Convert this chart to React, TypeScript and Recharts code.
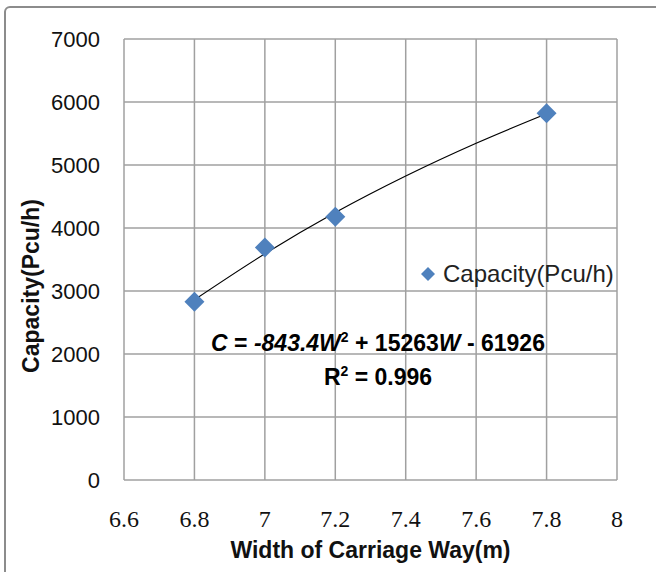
import React from "react";
import { CartesianGrid, ComposedChart, Label, Line, Scatter, XAxis, YAxis } from "recharts";

// observed capacities (diamonds)
const widths = [6.8, 7.0, 7.2, 7.8];
const capacity = [2830, 3690, 4180, 5820];

// polynomial trendline
const trendWidths = [6.8, 7.0, 7.2, 7.4, 7.6, 7.8];
const trendCapacity = [2860, 3590, 4245, 4825, 5345, 5813];

const xTicks = [6.6, 6.8, 7, 7.2, 7.4, 7.6, 7.8, 8];
const yTicks = [0, 1000, 2000, 3000, 4000, 5000, 6000, 7000];

const SERIES_NAME = "Capacity(Pcu/h)";
const BLUE = "#4f81bd";
const GRID = "#a0a0a0";
const SANS = "'Liberation Sans', Arial, sans-serif";
const SERIF = "'Liberation Serif', 'Times New Roman', serif";

const points = widths.map((w, i) => ({ w, cap: capacity[i] }));
const trend = trendWidths.map((w, i) => ({ w, cap: trendCapacity[i] }));

function Diamond(props: any) {
  const { cx, cy } = props;
  if (cx == null || cy == null) return null;
  const r = 10;
  return <polygon points={`${cx},${cy - r} ${cx + r},${cy} ${cx},${cy + r} ${cx - r},${cy}`} fill={BLUE} />;
}

function YTitle() {
  return (
    <text
      transform="translate(31,286) rotate(-90)"
      textAnchor="middle"
      dominantBaseline="central"
      fontFamily={SANS}
      fontWeight="bold"
      fontSize={23}
      fill="#111"
    >
      Capacity(Pcu/h)
    </text>
  );
}

export default function App() {
  return (
    <div style={{ position: "relative", width: 656, height: 572, overflow: "hidden", background: "#fff" }}>
      <style>{"body{margin:0;overflow:hidden}"}</style>
      <div
        style={{
          position: "absolute",
          left: 4,
          top: 6,
          width: 700,
          height: 700,
          border: "2px solid #8c8c8c",
          borderRadius: 6,
        }}
      />
      <ComposedChart width={656} height={572} margin={{ top: 39, right: 39, left: 0, bottom: 0 }}>
        <CartesianGrid stroke={GRID} strokeWidth={1.5} />
        <XAxis
          dataKey="w"
          type="number"
          domain={[6.6, 8]}
          ticks={xTicks}
          height={92}
          axisLine={false}
          tickLine={false}
          tickSize={0}
          tickMargin={30}
          tick={{ fontFamily: SERIF, fontSize: 24, fill: "#111" }}
        >
          <Label
            value="Width of Carriage Way(m)"
            position="insideBottom"
            offset={14}
            style={{ fontFamily: SANS, fontWeight: "bold", fontSize: 23, fill: "#111" }}
          />
        </XAxis>
        <YAxis
          dataKey="cap"
          type="number"
          domain={[0, 7000]}
          ticks={yTicks}
          width={124}
          axisLine={false}
          tickLine={false}
          tickSize={0}
          tickMargin={24}
          tick={{ fontFamily: SANS, fontSize: 22, fill: "#111" }}
        >
          <Label content={<YTitle />} />
        </YAxis>
        <Line
          data={trend}
          dataKey="cap"
          type="monotone"
          stroke="#000"
          strokeWidth={1.2}
          dot={false}
          activeDot={false}
          legendType="none"
          isAnimationActive={false}
        />
        <Scatter data={points} dataKey="cap" name={SERIES_NAME} shape={<Diamond />} isAnimationActive={false} />
      </ComposedChart>
      <div
        style={{
          position: "absolute",
          left: 420,
          top: 259,
          display: "flex",
          alignItems: "center",
          fontFamily: SANS,
          fontSize: 24,
          color: "#222",
          whiteSpace: "nowrap",
          lineHeight: "30px",
        }}
      >
        <svg width={16} height={16} style={{ marginRight: 7 }}>
          <polygon points="8,1 15,8 8,15 1,8" fill={BLUE} />
        </svg>
        {SERIES_NAME}
      </div>
      <div
        style={{
          position: "absolute",
          left: 128,
          top: 326,
          width: 500,
          textAlign: "center",
          fontFamily: SANS,
          fontWeight: "bold",
          fontSize: 23,
          color: "#000",
          lineHeight: "34px",
        }}
      >
        <div>
          <i>C</i> = <i>-843.4W</i>
          <sup style={{ fontSize: 14, lineHeight: 0 }}>2</sup> + 15263<i>W</i> - 61926
        </div>
        <div>
          R<sup style={{ fontSize: 14, lineHeight: 0 }}>2</sup> = 0.996
        </div>
      </div>
    </div>
  );
}
